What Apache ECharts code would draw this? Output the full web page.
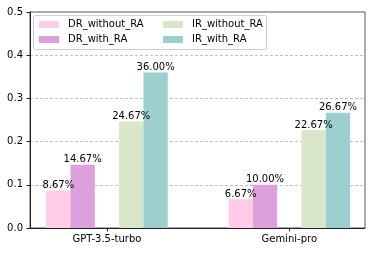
<!DOCTYPE html>
<html>
<head>
<meta charset="utf-8">
<script src="https://cdn.jsdelivr.net/npm/echarts@6/dist/echarts.min.js"></script>
<style>html,body{margin:0;padding:0;background:#fff;}#c{width:373px;height:253px;}</style>
</head>
<body>
<div id="c"></div>
<script>
const categories = ['GPT-3.5-turbo', 'Gemini-pro'];
const seriesNames = ['DR_without_RA', 'DR_with_RA', 'IR_without_RA', 'IR_with_RA'];
const drWithoutRA = [0.0867, 0.0667];
const drWithRA = [0.1467, 0.1000];
const irWithoutRA = [0.2467, 0.2267];
const irWithRA = [0.3600, 0.2667];
const yTicks = [0, 0.1, 0.2, 0.3, 0.4, 0.5];

const colors = ['#ffcce8', '#dda0dd', '#d8e6c9', '#9dcfcf'];
const FONT = 'DejaVu Sans';

function toPoints(arr) { return arr.map((v, i) => [i, v]); }

function barSeries(name, arr, color) {
  return {
    name: name, type: 'bar', data: toPoints(arr),
    barWidth: '13.333%', barGap: '0%',
    itemStyle: { color: color },
    label: {
      show: true, position: 'top', distance: 0,
      fontFamily: FONT, fontSize: 10, color: '#000',
      formatter: p => (p.value[1] * 100).toFixed(2) + '%'
    },
    emphasis: { disabled: true }
  };
}

const series = [
  barSeries(seriesNames[0], drWithoutRA, colors[0]),
  barSeries(seriesNames[1], drWithRA, colors[1]),
  { name: 'gap', type: 'bar', data: [], barWidth: '13.333%', barGap: '0%', silent: true },
  barSeries(seriesNames[2], irWithoutRA, colors[2]),
  barSeries(seriesNames[3], irWithRA, colors[3])
];

const chart = echarts.init(document.getElementById('c'), null, { renderer: 'canvas' });
const legendCommon = {
  orient: 'vertical', icon: 'rect', itemWidth: 20, itemHeight: 7, itemGap: 3,
  padding: 0, top: 18.5, selectedMode: false,
  textStyle: { fontFamily: FONT, fontSize: 10, color: '#000', lineHeight: 12, padding: [0, 0, 0, 4] }
};
chart.setOption({
  animation: false,
  color: colors,
  grid: { left: 30, right: 8, top: 12, bottom: 25, show: true, borderColor: '#555', borderWidth: 1, backgroundColor: 'transparent' },
  xAxis: {
    type: 'value', min: -0.422, max: 1.415,
    axisLine: { show: true, onZero: false, lineStyle: { color: '#222', width: 1 } },
    axisTick: { show: true, length: 3.5, customValues: [0, 1], lineStyle: { color: '#222' } },
    axisLabel: {
      customValues: [0, 1], margin: 6, fontFamily: FONT, fontSize: 10, color: '#000',
      formatter: v => categories[Math.round(v)]
    },
    splitLine: { show: false }
  },
  yAxis: {
    type: 'value', min: 0, max: 0.5, interval: 0.1,
    axisLine: { show: true, onZero: false, lineStyle: { color: '#222', width: 1 } },
    axisTick: { show: true, length: 3.5, lineStyle: { color: '#222' } },
    axisLabel: { margin: 7, fontFamily: FONT, fontSize: 10, color: '#000', formatter: v => v.toFixed(1) },
    splitLine: { show: true, lineStyle: { color: '#b0b0b0', type: [3, 2], width: 0.8 } }
  },
  legend: [
    Object.assign({}, legendCommon, { left: 39, data: [seriesNames[0], seriesNames[1]] }),
    Object.assign({}, legendCommon, { left: 163, data: [seriesNames[2], seriesNames[3]] })
  ],
  graphic: [{
    type: 'rect', z: 3,
    shape: { x: 33.5, y: 15.5, width: 233, height: 34, r: 2 },
    style: { fill: 'rgba(255,255,255,0.8)', stroke: '#cccccc', lineWidth: 1 }
  }],
  series: series
});
</script>
</body>
</html>
